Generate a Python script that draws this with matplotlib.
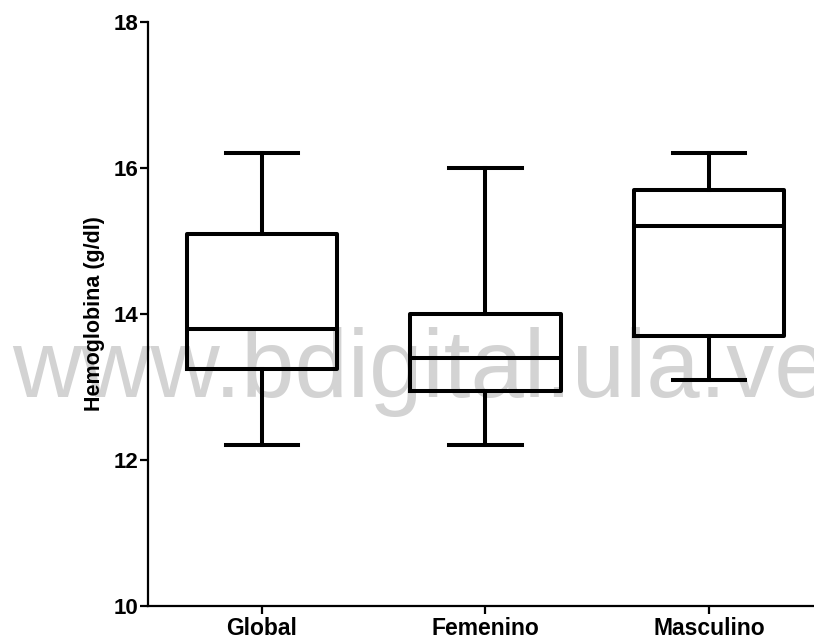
import matplotlib
matplotlib.use("Agg")
import matplotlib.pyplot as plt

categories = ["Global", "Femenino", "Masculino"]
whisker_low = [12.2, 12.2, 13.1]
q1 = [13.25, 12.95, 13.7]
median = [13.8, 13.4, 15.2]
q3 = [15.1, 14.0, 15.7]
whisker_high = [16.2, 16.0, 16.2]
yticks = [10, 12, 14, 16, 18]
ylabel = "Hemoglobina (g/dl)"
watermark = "www.bdigital.ula.ve"

plt.rcParams['font.family'] = ['Liberation Sans', 'DejaVu Sans']

fig = plt.figure(figsize=(8.14, 6.41), dpi=100)
ax = fig.add_axes([148/814, 1-606/641, 1-148/814, (606-22)/641])
ax.patch.set_visible(False)

stats = []
for i, c in enumerate(categories):
    stats.append(dict(label=c, whislo=whisker_low[i], q1=q1[i], med=median[i],
                      q3=q3[i], whishi=whisker_high[i], fliers=[]))

lw = 2.9
ax.bxp(stats, positions=range(len(categories)), widths=0.674, capwidths=0.326,
       showfliers=False,
       boxprops=dict(color='black', linewidth=lw),
       medianprops=dict(color='black', linewidth=lw),
       whiskerprops=dict(color='black', linewidth=lw),
       capprops=dict(color='black', linewidth=lw))

ax.set_xlim(-0.51, 2.47)
ax.set_ylim(10, 18)
ax.set_yticks(yticks)
ax.set_yticklabels([str(t) for t in yticks], fontsize=16, fontweight='bold')
ax.set_xticks(range(len(categories)))
ax.set_xticklabels(categories, fontsize=16.5, fontweight='bold')
ax.set_ylabel(ylabel, fontsize=15.5, fontweight='bold', labelpad=6)

for s in ['top', 'right']:
    ax.spines[s].set_visible(False)
for s in ['left', 'bottom']:
    ax.spines[s].set_linewidth(1.6)
ax.tick_params(axis='both', width=1.6, length=6, direction='out')
ax.tick_params(axis='y', pad=1)
ax.tick_params(axis='x', pad=2)

fig.text(12/814, 1-397/641, watermark, fontsize=69, color='#d3d3d3',
         ha='left', va='baseline', zorder=-1)

fig.savefig("out.png", dpi=100)
